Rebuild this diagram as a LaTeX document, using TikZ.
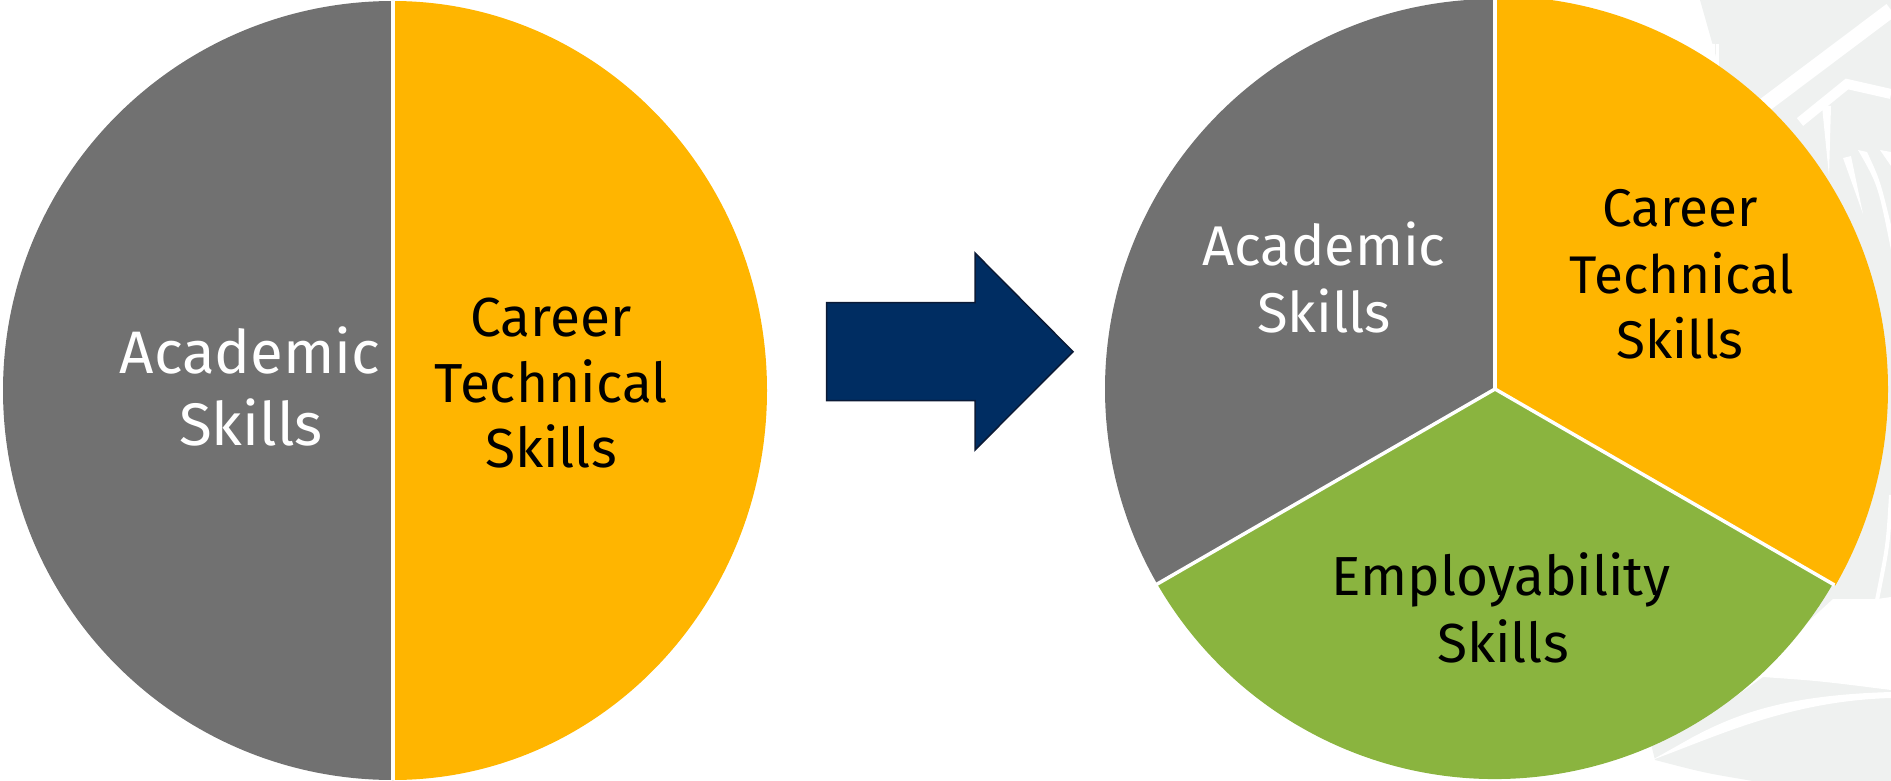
\documentclass[tikz,border=0pt]{standalone}
\usepackage{fontspec}
\setmainfont{Fira Sans}
\usetikzlibrary{calc}
\definecolor{pgrey}{HTML}{717171}
\definecolor{pyellow}{HTML}{FFB500}
\definecolor{pgreen}{HTML}{8AB43F}
\definecolor{pnavy}{HTML}{002D62}
\definecolor{pnavyline}{HTML}{0B1A36}
\definecolor{wmark}{HTML}{EFF1F0}
\begin{document}
\begin{tikzpicture}[x=1pt,y=-1pt,
  lbl/.style={anchor=base, inner sep=0pt},
  wlbl/.style={lbl, text=white},
  blbl/.style={lbl, text=black},
  sep/.style={draw=white, line width=3.5pt},
  wm/.style={fill=wmark},
  gap/.style={fill=white}]
\useasboundingbox (0,0) rectangle (1891,781);
% faint watermark behind the right pie
\fill[wm] (1700,0) -- (1891,0) -- (1891,781) -- (1753,781)
  .. controls (1705,773) .. (1655,760) -- (1640,700) -- (1640,300) -- (1717,60) -- cycle;
\draw[white, line width=3pt] (1717,44) -- (1717,70);
\fill[gap] (1640,40) -- (1715,44) -- (1715,70) -- (1640,90) -- cycle;
\draw[white, line width=15pt] (1750,116) -- (1891,10);
\draw[white, line width=10pt, line join=miter] (1800,122) -- (1847,84) -- (1891,94);
\fill[gap] (1822,106) -- (1831,106) -- (1829,176) -- cycle;
\fill[gap] (1843,158) -- (1851,156) -- (1863,214) -- cycle;
\fill[gap] (1858,150) .. controls (1878,185) .. (1891,250) -- (1891,225)
  .. controls (1880,180) .. (1867,152) -- cycle;
\fill[gap] (1880,150) -- (1891,152) -- (1891,166) -- cycle;
\draw[white, line width=4pt] (1891,495) .. controls (1888,545) .. (1877,600);
\fill[gap] (1877,599) -- (1891,597) -- (1891,690) .. controls (1820,681) .. (1763,677)
  -- (1700,721) -- (1833,599) -- cycle;
\fill[gap] (1693,737) .. controls (1740,712) and (1790,695) .. (1891,692)
  -- (1891,698) .. controls (1790,701) and (1720,735) .. (1652,760) -- cycle;
% left pie
\coordinate (lc) at (393,390.5);
\fill[pgrey] (393,1) arc[start angle=-90, end angle=-270, x radius=390, y radius=389.5] -- cycle;
\fill[pyellow] (393,1) arc[start angle=-90, end angle=90, x radius=374, y radius=389.5] -- cycle;
\coordinate (ltop) at (393,1);
\coordinate (lbot) at (393,780);
\draw[sep] (ltop) -- (lbot);
% arrow
\path[fill=pnavy, draw=pnavyline, line width=1.5pt]
  (826.7,302.7) -- (975,302.7) -- (975,253) -- (1073,351.7) -- (975,450)
  -- (975,400.7) -- (826.7,400.7) -- cycle;
% right pie
\coordinate (rc) at (1495,389);
\fill[pgrey] (rc) -- ++(-90:390) arc[start angle=-90, end angle=-210, radius=390] -- cycle;
\fill[pyellow] (rc) -- ++(-90:393) arc[start angle=-90, end angle=30, radius=393] -- cycle;
\fill[pgreen] (rc) -- ++(30:390) arc[start angle=30, end angle=150, radius=390] -- cycle;
\coordinate (rtop) at ($(rc)+(-90:392)$);
\coordinate (rll) at ($(rc)+(150:392)$);
\coordinate (rlr) at ($(rc)+(30:392)$);
\draw[sep] (rc) -- (rtop);
\draw[sep] (rc) -- (rll);
\draw[sep] (rc) -- (rlr);
% labels, left pie
\node[wlbl, font=\fontsize{60}{72}\selectfont] (la1) at (250,373) {Academic};
\node[wlbl, font=\fontsize{60}{72}\selectfont] (la2) at (251,445) {Skills};
\node[blbl, font=\fontsize{55}{66}\selectfont] (lc1) at (551,336) {Career};
\node[blbl, font=\fontsize{55}{66}\selectfont] (lc2) at (551,402) {Technical};
\node[blbl, font=\fontsize{55}{66}\selectfont] (lc3) at (551,467) {Skills};
% labels, right pie
\node[wlbl, font=\fontsize{56}{67}\selectfont] (ra1) at (1324,265) {Academic};
\node[wlbl, font=\fontsize{56}{67}\selectfont] (ra2) at (1324,332) {Skills};
\node[blbl, font=\fontsize{53}{66}\selectfont] (rc1) at (1680,226) {Career};
\node[blbl, font=\fontsize{53}{66}\selectfont] (rc2) at (1682,293) {Technical};
\node[blbl, font=\fontsize{53}{66}\selectfont] (rc3) at (1680,358) {Skills};
\node[blbl, font=\fontsize{55}{67}\selectfont] (re1) at (1501,595) {Employability};
\node[blbl, font=\fontsize{55}{67}\selectfont] (re2) at (1503,662) {Skills};
\end{tikzpicture}
\end{document}
